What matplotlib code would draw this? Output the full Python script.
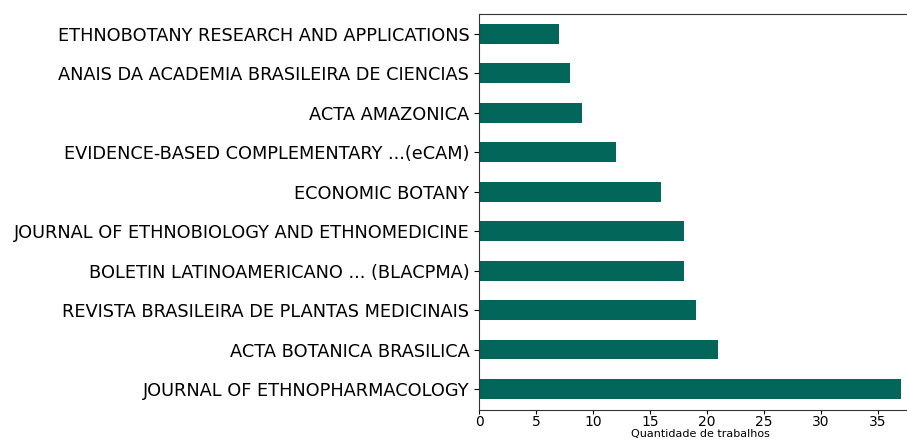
import matplotlib
matplotlib.use("Agg")
import matplotlib.pyplot as plt

journals = [
    "JOURNAL OF ETHNOPHARMACOLOGY",
    "ACTA BOTANICA BRASILICA",
    "REVISTA BRASILEIRA DE PLANTAS MEDICINAIS",
    "BOLETIN LATINOAMERICANO ... (BLACPMA)",
    "JOURNAL OF ETHNOBIOLOGY AND ETHNOMEDICINE",
    "ECONOMIC BOTANY",
    "EVIDENCE-BASED COMPLEMENTARY ...(eCAM)",
    "ACTA AMAZONICA",
    "ANAIS DA ACADEMIA BRASILEIRA DE CIENCIAS",
    "ETHNOBOTANY RESEARCH AND APPLICATIONS",
]
counts = [37, 21, 19, 18, 18, 16, 12, 9, 8, 7]
xticks = [0, 5, 10, 15, 20, 25, 30, 35]

fig = plt.figure(figsize=(9.07, 4.41), dpi=100)
W, H = 907, 441
ax = fig.add_axes([479 / W, 31 / H, (922 - 479) / W, 396 / H])
ypos = list(range(len(journals)))
ax.barh(ypos, counts, height=0.5, color="#02665b")
ax.set_yticks(ypos)
ax.set_yticklabels(journals, fontsize=12.8)
ax.tick_params(axis="y", pad=3.5)
ax.set_ylim(-0.53, 9.5)
ax.set_xlim(0, max(counts) * 1.05)
ax.set_xticks(xticks)
ax.set_xticklabels([str(t) for t in xticks], fontsize=10)
ax.tick_params(axis="x", pad=0.5, length=3)
ax.set_xlabel("Quantidade de trabalhos", fontsize=8, labelpad=0)
for s in ax.spines.values():
    s.set_color("#333333")
fig.savefig("out.png", dpi=100)
